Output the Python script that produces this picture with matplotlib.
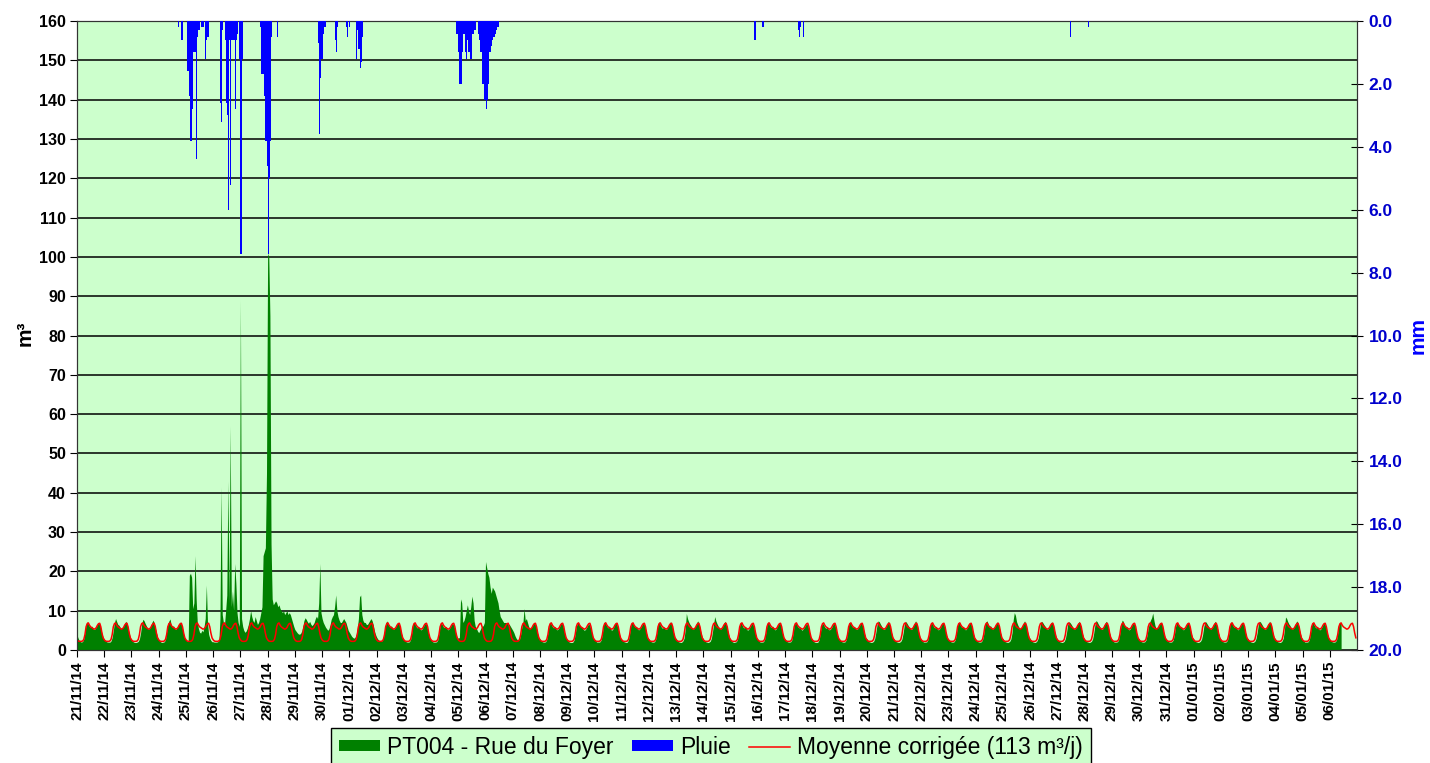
import numpy as np
import matplotlib
matplotlib.use("Agg")
import matplotlib.pyplot as plt
from matplotlib.patches import Patch
from matplotlib.lines import Line2D

plt.rcParams["font.family"] = ["Liberation Sans", "DejaVu Sans"]

# one tick per day, 21/11/14 -> 06/01/15
jours = ["21/11/14", "22/11/14", "23/11/14", "24/11/14", "25/11/14", "26/11/14",
         "27/11/14", "28/11/14", "29/11/14", "30/11/14", "01/12/14", "02/12/14",
         "03/12/14", "04/12/14", "05/12/14", "06/12/14", "07/12/14", "08/12/14",
         "09/12/14", "10/12/14", "11/12/14", "12/12/14", "13/12/14", "14/12/14",
         "15/12/14", "16/12/14", "17/12/14", "18/12/14", "19/12/14", "20/12/14",
         "21/12/14", "22/12/14", "23/12/14", "24/12/14", "25/12/14", "26/12/14",
         "27/12/14", "28/12/14", "29/12/14", "30/12/14", "31/12/14", "01/01/15",
         "02/01/15", "03/01/15", "04/01/15", "05/01/15", "06/01/15"]

# hourly volume (m3), one line per day, hours 0h..23h
debit_horaire = [
    "3.8 3.0 2.4 2.1 2.0 2.2 2.8 4.5 6.5 7.2 6.6 6.0 5.8 6.1 5.5 5.2 5.4 5.9 6.5 7.0 6.6 5.5 4.2 3.3",
    "2.7 2.3 2.1 2.0 2.0 2.0 2.3 3.2 5.0 7.0 8.0 7.2 6.5 6.3 5.8 5.5 5.6 6.0 6.8 7.3 6.8 5.6 4.3 3.2",
    "2.6 2.2 2.0 1.9 1.9 2.0 2.2 2.8 4.3 6.5 7.8 7.5 6.8 6.2 5.6 5.3 5.5 6.2 7.0 7.6 6.9 5.7 4.4 3.3",
    "2.6 2.2 2.0 1.9 2.0 2.1 2.7 4.6 6.6 7.4 7.9 6.4 5.9 6.2 5.5 5.2 5.6 6.0 6.7 7.1 6.5 5.4 4.0 3.0",
    "2.6 2.2 2.4 19.0 19.5 18.5 10.5 12.0 24.0 13.0 7.0 5.5 4.5 4.3 5.0 4.6 6.0 8.0 16.5 7.0 4.0 3.0 2.4 2.1",
    "2.1 2.0 2.0 2.0 2.1 2.4 8.0 41.5 9.0 7.0 6.5 10.0 14.0 43.0 12.0 57.0 11.0 15.0 10.0 22.0 17.0 9.5 7.0 6.0",
    "89.0 8.0 6.0 5.0 4.5 4.8 5.5 6.5 8.0 10.0 8.5 7.5 7.0 8.5 7.5 6.5 7.0 8.0 9.5 11.0 24.0 25.0 26.0 45.0",
    "101.0 100.0 85.0 27.0 13.0 11.5 12.0 12.5 12.0 11.0 11.5 10.5 10.0 9.5 10.0 9.0 9.5 10.0 9.0 9.5 9.0 8.0 7.0 6.0",
    "5.2 4.8 4.4 4.1 4.0 4.2 4.8 6.0 7.5 8.2 7.8 7.2 6.8 7.3 6.6 6.2 6.5 7.0 8.0 8.6 8.0 12.0 22.0 9.5",
    "8.0 7.0 6.4 5.8 5.4 5.0 5.4 6.4 7.8 8.5 9.0 11.0 14.0 10.0 8.5 7.6 7.0 7.0 7.5 8.0 7.5 7.0 6.0 5.0",
    "4.5 4.0 3.5 3.2 3.0 3.2 4.0 5.5 8.0 13.5 14.0 9.0 7.5 7.0 7.0 6.5 6.5 7.0 7.5 8.0 7.5 6.5 5.0 4.0",
    "3.3 2.8 2.5 2.3 2.2 2.4 3.0 4.8 6.8 7.4 6.8 6.1 5.8 6.2 5.6 5.3 5.5 6.0 6.6 7.0 6.5 5.4 4.1 3.2",
    "2.7 2.3 2.1 2.0 2.0 2.1 2.7 4.4 6.4 7.0 6.5 5.9 5.6 5.9 5.4 5.1 5.3 5.8 6.4 6.9 6.4 5.3 4.0 3.1",
    "2.6 2.2 2.0 2.0 2.0 2.1 2.6 4.3 6.3 6.9 6.4 5.8 5.7 6.0 5.4 5.1 5.4 5.9 6.5 6.8 6.3 5.3 4.1 3.2",
    "3.0 3.2 13.0 12.0 7.0 7.5 8.5 10.0 11.5 10.0 9.0 11.0 13.7 12.0 7.5 6.0 5.5 4.8 4.4 5.0 5.6 6.0 6.2 7.0",
    "22.5 21.0 19.5 18.5 16.0 14.4 16.0 15.5 15.0 14.0 13.0 12.0 10.0 8.5 8.0 7.5 7.0 7.0 7.0 6.8 6.7 6.5 6.0 5.5",
    "5.0 4.4 3.6 3.0 2.6 2.5 2.8 4.0 5.8 7.0 10.6 7.5 8.0 7.0 6.0 5.4 5.6 6.0 6.6 7.0 6.5 5.4 4.1 3.2",
    "2.8 2.3 2.1 2.0 2.0 2.1 2.7 4.4 6.4 7.1 6.5 5.9 5.6 6.0 5.4 5.1 5.3 5.8 6.5 7.0 6.4 5.3 4.0 3.1",
    "2.7 2.2 2.0 1.9 1.9 2.0 2.5 4.0 6.0 6.8 6.9 6.2 5.7 5.8 5.3 5.0 5.2 5.7 6.3 6.7 6.2 5.2 3.9 3.0",
    "2.8 2.3 2.0 2.0 2.0 2.1 2.6 4.3 6.5 7.3 6.6 6.0 5.6 6.1 5.5 5.0 5.2 5.9 6.6 7.1 6.3 5.2 4.0 3.0",
    "2.7 2.3 2.1 2.0 1.9 2.0 2.6 4.2 6.2 7.0 6.7 6.1 5.8 5.9 5.3 5.1 5.4 5.8 6.4 6.9 6.5 5.4 4.1 3.1",
    "2.8 2.3 2.1 2.0 2.0 2.1 2.7 4.5 6.6 7.2 6.4 5.8 5.5 5.9 5.4 5.2 5.4 5.9 6.6 7.2 6.6 5.4 4.1 3.2",
    "2.9 2.4 2.1 2.0 1.9 2.0 2.3 3.0 5.2 9.3 8.0 7.2 6.6 6.2 5.6 5.3 5.5 6.1 6.9 7.4 6.8 5.6 4.3 3.3",
    "2.8 2.3 2.1 2.0 1.9 2.0 2.2 2.9 4.6 6.6 8.5 7.4 6.7 6.1 5.6 5.3 5.5 6.0 6.8 7.3 6.7 5.5 4.2 3.2",
    "2.7 2.2 2.0 1.9 2.0 2.1 2.6 4.3 6.3 7.0 6.4 5.8 5.6 6.0 5.3 5.0 5.3 5.8 6.4 6.8 6.3 5.2 3.9 3.0",
    "2.7 2.3 2.0 2.0 2.0 2.1 2.7 4.4 6.4 7.2 6.6 5.9 5.7 6.1 5.5 5.1 5.3 5.9 6.5 7.0 6.4 5.3 4.0 3.1",
    "2.8 2.3 2.1 2.0 2.0 2.1 2.6 4.2 6.3 6.9 6.7 6.0 5.6 5.8 5.3 5.0 5.4 5.8 6.3 6.8 6.2 5.2 4.0 3.0",
    "2.7 2.2 2.0 1.9 1.9 2.0 2.6 4.3 6.2 6.9 6.4 5.8 5.5 5.9 5.3 5.1 5.3 5.7 6.4 6.9 6.3 5.2 3.9 3.0",
    "2.8 2.3 2.1 2.0 2.0 2.1 2.7 4.4 6.5 7.1 6.6 6.0 5.7 6.0 5.4 5.2 5.4 5.9 6.5 7.0 6.4 5.3 4.1 3.1",
    "2.9 2.4 2.1 2.0 1.9 2.0 2.2 2.9 4.5 6.4 7.4 7.2 6.6 6.1 5.5 5.2 5.4 6.0 6.8 7.3 6.7 5.5 4.2 3.2",
    "2.8 2.3 2.1 2.0 1.9 2.0 2.2 2.8 4.3 6.3 7.3 7.0 6.5 6.0 5.5 5.2 5.4 6.1 6.9 7.4 6.8 5.6 4.3 3.2",
    "2.7 2.3 2.0 2.0 2.0 2.1 2.7 4.4 6.4 7.0 6.5 5.9 5.6 6.0 5.4 5.1 5.3 5.8 6.5 7.0 6.4 5.3 4.0 3.1",
    "2.8 2.3 2.1 2.0 2.0 2.1 2.6 4.3 6.4 7.1 6.6 6.0 5.7 6.0 5.4 5.1 5.4 5.9 6.5 7.0 6.5 5.3 4.0 3.1",
    "2.8 2.3 2.1 2.0 2.0 2.1 2.6 4.0 6.0 7.2 7.4 6.6 6.0 6.2 5.6 5.3 5.6 6.1 6.7 7.2 6.6 5.5 4.2 3.2",
    "2.9 2.4 2.1 2.0 1.9 2.0 2.2 2.8 4.4 7.6 9.5 8.8 7.2 6.4 5.8 5.4 5.6 6.1 6.9 7.4 6.8 5.6 4.3 3.3",
    "2.9 2.4 2.1 2.0 1.9 2.0 2.3 3.0 4.6 6.5 7.3 7.0 6.5 6.1 5.5 5.2 5.4 6.0 6.7 7.2 6.6 5.5 4.2 3.2",
    "2.8 2.3 2.1 2.0 1.9 2.0 2.2 2.9 4.4 6.4 7.2 7.0 6.6 6.1 5.5 5.3 5.5 6.0 6.8 7.3 6.7 5.5 4.2 3.2",
    "2.8 2.3 2.1 2.0 1.9 2.0 2.2 2.8 4.3 6.3 7.5 7.2 6.6 6.1 5.6 5.2 5.4 6.1 6.9 7.3 6.8 5.6 4.3 3.3",
    "2.7 2.3 2.0 2.0 2.0 2.1 2.6 4.2 6.3 7.6 7.3 6.4 5.8 6.0 5.4 5.1 5.3 5.9 6.5 7.0 6.4 5.3 4.0 3.1",
    "2.8 2.3 2.1 2.0 2.0 2.1 2.5 3.8 5.6 6.8 7.6 8.2 9.4 7.6 6.2 5.5 5.5 5.9 6.6 7.1 6.5 5.4 4.1 3.1",
    "2.8 2.3 2.1 2.0 2.0 2.1 2.5 3.8 5.8 6.9 6.8 6.2 5.8 5.9 5.4 5.1 5.4 5.9 6.6 7.1 6.5 5.4 4.1 3.2",
    "2.9 2.4 2.1 2.0 1.9 2.0 2.2 2.7 4.0 6.0 7.2 7.1 6.6 6.1 5.6 5.3 5.5 6.0 6.8 7.3 6.8 5.6 4.3 3.3",
    "2.8 2.3 2.1 2.0 2.0 2.1 2.6 4.2 6.3 7.2 6.7 6.0 5.7 6.0 5.4 5.1 5.4 5.9 6.6 7.1 6.5 5.4 4.1 3.1",
    "2.9 2.4 2.1 2.0 1.9 2.0 2.2 2.9 4.4 6.4 7.3 7.1 6.6 6.1 5.5 5.2 5.5 6.0 6.8 7.3 6.7 5.5 4.2 3.2",
    "2.9 2.4 2.1 2.0 1.9 2.0 2.3 3.0 5.0 8.4 8.0 7.2 6.6 6.2 5.6 5.3 5.5 6.1 6.9 7.4 6.8 5.6 4.3 3.3",
    "2.7 2.3 2.0 2.0 2.0 2.1 2.6 4.3 6.4 7.1 6.5 5.9 5.6 6.0 5.4 5.1 5.3 5.8 6.5 7.0 6.4 5.3 4.0 3.1",
    "2.7 2.3 2.1 2.0 2.0 2.1 2.6 4.3 6.3 7.0 6.6",
]

# corrected mean hourly profile (113 m3/day), repeated each day
moyenne_horaire = [2.6, 2.3, 2.2, 2.2, 2.2, 2.3, 2.7, 3.9, 5.9, 6.7, 6.9, 6.3,
                   5.9, 5.7, 5.5, 5.3, 5.4, 5.7, 6.3, 6.7, 6.8, 5.9, 4.3, 3.1]

# rainfall: (day index, hour, mm)
pluie = [
    (3, 17, 0.2), (3, 20, 0.6),
    (4, 1, 1.6), (4, 2, 1.6), (4, 3, 2.4), (4, 4, 3.8), (4, 5, 2.8), (4, 6, 1.0),
    (4, 7, 1.0), (4, 8, 1.0), (4, 9, 4.4), (4, 10, 0.5), (4, 11, 0.3), (4, 13, 0.2),
    (4, 14, 0.2), (4, 15, 0.2), (4, 17, 1.2), (4, 18, 0.6), (4, 19, 0.5),
    (5, 6, 2.6), (5, 7, 3.2), (5, 8, 0.3), (5, 10, 0.6), (5, 11, 2.6), (5, 12, 3.0),
    (5, 13, 6.0), (5, 14, 0.6), (5, 15, 5.2), (5, 16, 0.6), (5, 17, 0.6), (5, 18, 0.6),
    (5, 19, 2.8), (5, 20, 0.6), (5, 21, 0.4), (5, 23, 1.2),
    (6, 0, 7.4), (6, 1, 1.2), (6, 17, 0.2), (6, 18, 1.7), (6, 19, 1.7), (6, 20, 1.7),
    (6, 21, 2.4), (6, 22, 3.8), (6, 23, 4.6),
    (7, 0, 7.4), (7, 1, 5.0), (7, 2, 3.8), (7, 3, 0.5), (7, 8, 0.5),
    (8, 20, 0.7), (8, 21, 3.6), (8, 22, 1.8), (8, 23, 1.2),
    (9, 0, 1.2), (9, 1, 0.4), (9, 2, 0.2), (9, 11, 0.6), (9, 12, 1.0), (9, 13, 0.2),
    (9, 21, 0.2), (9, 22, 0.5),
    (10, 0, 0.2), (10, 6, 1.2), (10, 7, 0.3), (10, 8, 0.9), (10, 9, 1.5), (10, 10, 1.3),
    (10, 11, 0.5),
    (13, 22, 0.4), (13, 23, 0.4),
    (14, 0, 1.0), (14, 1, 2.0), (14, 2, 2.0), (14, 3, 1.0), (14, 4, 0.4), (14, 5, 0.4),
    (14, 6, 1.0), (14, 7, 1.2), (14, 8, 0.6), (14, 9, 1.0), (14, 10, 1.2), (14, 11, 1.2),
    (14, 12, 0.4), (14, 13, 0.4), (14, 14, 0.3), (14, 15, 0.3), (14, 17, 0.4),
    (14, 18, 0.6), (14, 19, 1.0), (14, 20, 1.0), (14, 21, 2.0), (14, 22, 2.0), (14, 23, 2.5),
    (15, 0, 2.8), (15, 1, 2.5), (15, 2, 2.0), (15, 3, 1.0), (15, 4, 1.0), (15, 5, 0.8),
    (15, 6, 0.6), (15, 7, 0.5), (15, 8, 0.4), (15, 9, 0.3), (15, 10, 0.2), (15, 11, 0.2),
    (24, 21, 0.6), (25, 4, 0.2),
    (26, 11, 0.3), (26, 12, 0.5), (26, 13, 0.2), (26, 16, 0.5),
    (36, 11, 0.5), (37, 3, 0.2),
]

VERT = "#008000"
BLEU = "#0000FF"
FOND = "#CCFFCC"

debit = np.array([float(v) for ligne in debit_horaire for v in ligne.split()])
x_debit = np.arange(len(debit)) / 24.0
# close the area on the axis after the last hour
x_debit = np.append(x_debit, x_debit[-1])
debit = np.append(debit, 0.0)

n_jours = len(jours)
moyenne = np.tile(moyenne_horaire, n_jours)
x_moy = np.arange(len(moyenne)) / 24.0

x_pluie = np.array([j + (h + 0.5) / 24.0 for j, h, _ in pluie])
h_pluie = np.array([mm for _, _, mm in pluie])

fig = plt.figure(figsize=(14.3, 7.63), dpi=100)
ax = fig.add_axes([77 / 1430, 1 - 650 / 763, 1280 / 1430, 629 / 763])
ax.set_facecolor(FOND)

ax.fill_between(x_debit, debit, 0, color=VERT, linewidth=0, zorder=2)
ax.plot(x_moy, moyenne, color="red", linewidth=1.1, zorder=3)

ax.set_xlim(0, n_jours)
ax.set_ylim(0, 160)
ax.set_yticks(np.arange(0, 161, 10))
ax.yaxis.grid(True, color="black", linewidth=1.1, zorder=1)
ax.set_axisbelow(True)
ax.set_xticks(np.arange(n_jours))
ax.set_xticklabels(jours, rotation=90, fontsize=11, fontweight="bold")
ax.tick_params(axis="x", direction="out", length=5, pad=3)
ax.tick_params(axis="y", direction="out", length=5, labelsize=11.5, pad=3)
for lab in ax.get_yticklabels():
    lab.set_fontweight("bold")
for sp in ax.spines.values():
    sp.set_color("#333333")

ax2 = ax.twinx()
ax2.bar(x_pluie, h_pluie, width=1 / 24.0, color=BLEU, linewidth=0, zorder=4)
ax2.set_ylim(20, 0)
ax2.set_yticks(np.arange(0, 21, 2))
ax2.set_yticklabels([f"{v:.1f}" for v in np.arange(0, 21, 2)],
                    color="#0000CC", fontsize=12.5, fontweight="bold")
ax2.tick_params(axis="y", direction="inout", length=9, pad=4)
for sp in ax2.spines.values():
    sp.set_color("#333333")

fig.text(25 / 1430, 1 - 333 / 763, "m³", rotation=90, ha="center", va="center",
         fontsize=15, fontweight="bold")
fig.text(1418 / 1430, 1 - 335 / 763, "mm", rotation=90, ha="center", va="center",
         fontsize=15, fontweight="bold", color=BLEU)

poignees = [Patch(facecolor=VERT, edgecolor="none"),
            Patch(facecolor=BLEU, edgecolor="none"),
            Line2D([], [], color="red", linewidth=1.1)]
noms = ["PT004 - Rue du Foyer", "Pluie", "Moyenne corrigée (113 m³/j)"]
leg = fig.legend(poignees, noms, loc="upper center", ncol=3,
                 bbox_to_anchor=(711 / 1430, 1 - 728 / 763),
                 fontsize=16.5, frameon=True, fancybox=False, framealpha=1,
                 facecolor=FOND, edgecolor="black", handlelength=1.8,
                 handleheight=0.35, handletextpad=0.3, columnspacing=0.8,
                 borderpad=0.35, borderaxespad=0)
leg.get_frame().set_linewidth(1.0)

fig.savefig("out.png", dpi=100)
